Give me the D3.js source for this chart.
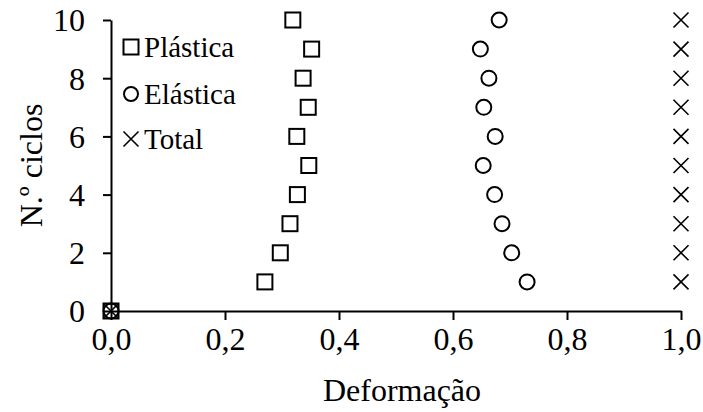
<!DOCTYPE html>
<html>
<head>
<meta charset="utf-8">
<script src="https://cdn.jsdelivr.net/npm/d3@7/dist/d3.min.js"></script>
<style>
  html, body { margin: 0; padding: 0; background: #fff; }
  svg text { font-family: "Liberation Serif", "DejaVu Serif", serif; fill: #000; }
</style>
</head>
<body>
<svg id="chart" width="703" height="412" font-family="Liberation Serif"></svg>
<script>
// Data
const ciclos   = [0, 1, 2, 3, 4, 5, 6, 7, 8, 9, 10];
const plastica = [0, 0.270, 0.297, 0.314, 0.327, 0.347, 0.326, 0.346, 0.337, 0.352, 0.319];
const elastica = [0, 0.730, 0.703, 0.686, 0.673, 0.653, 0.674, 0.654, 0.663, 0.648, 0.681];
const total    = [0, 1, 1, 1, 1, 1, 1, 1, 1, 1, 1];
const xTicks = [0, 0.2, 0.4, 0.6, 0.8, 1.0];
const yTicks = [0, 2, 4, 6, 8, 10];
const seriesNames = ["Plástica", "Elástica", "Total"];
const xTitle = "Deformação";
const yTitle = "N.º ciclos";

const svg = d3.select("#chart");
const x = d3.scaleLinear().domain([0, 1]).range([111, 681]);
const y = d3.scaleLinear().domain([0, 10]).range([311, 20]);
const fmt = v => d3.format(".1f")(v).replace(".", ",");

// Axes
const xAxis = svg.append("g").attr("transform", `translate(0,${y(0)})`)
  .call(d3.axisBottom(x).tickValues(xTicks).tickFormat(fmt).tickSize(9).tickPadding(7).tickSizeOuter(0));
const yAxis = svg.append("g").attr("transform", `translate(${x(0)},0)`)
  .call(d3.axisLeft(y).tickValues(yTicks).tickSize(8).tickPadding(18).tickSizeOuter(0));
[xAxis, yAxis].forEach(a => {
  a.attr("font-family", "Liberation Serif").attr("font-size", 32);
  a.select(".domain").attr("stroke", "#000").attr("stroke-width", 2);
  a.selectAll(".tick line").attr("stroke", "#000").attr("stroke-width", 2);
  a.selectAll(".tick text").attr("font-size", 32).attr("font-family", "Liberation Serif");
});
yAxis.selectAll(".tick text").attr("dy", "0.34em");

// Titles
svg.append("text").attr("x", (x(0) + x(1)) / 2 + 6).attr("y", 401)
  .attr("text-anchor", "middle").attr("font-size", 32).text(xTitle);
svg.append("text").attr("transform", `translate(42,${(y(0) + y(10)) / 2}) rotate(-90)`)
  .attr("text-anchor", "middle").attr("font-size", 32).text(yTitle);

// Marker drawers
function square(g, cx, cy, s) {
  g.append("rect").attr("x", cx - s / 2).attr("y", cy - s / 2).attr("width", s).attr("height", s)
    .attr("fill", "none").attr("stroke", "#000").attr("stroke-width", 2);
}
function circle(g, cx, cy, r) {
  g.append("circle").attr("cx", cx).attr("cy", cy).attr("r", r)
    .attr("fill", "none").attr("stroke", "#000").attr("stroke-width", 2);
}
function cross(g, cx, cy, h) {
  g.append("path").attr("d", `M${cx - h},${cy - h}L${cx + h},${cy + h}M${cx - h},${cy + h}L${cx + h},${cy - h}`)
    .attr("fill", "none").attr("stroke", "#000").attr("stroke-width", 1.6);
}

const marks = svg.append("g");
ciclos.forEach((c, i) => {
  square(marks, x(plastica[i]), y(c), 15);
  circle(marks, x(elastica[i]), y(c), 7.5);
  cross(marks, x(total[i]), y(c), 7.5);
});

// Legend
const leg = svg.append("g");
const legY = [47, 94, 139];
const drawers = [
  (g, cx, cy) => square(g, cx, cy, 15),
  (g, cx, cy) => circle(g, cx, cy, 7),
  (g, cx, cy) => cross(g, cx, cy, 7.5)
];
seriesNames.forEach((n, i) => {
  drawers[i](leg, 131, legY[i]);
  leg.append("text").attr("x", 144).attr("y", legY[i]).attr("dy", "0.34em")
    .attr("font-size", 29).text(n);
});
</script>
</body>
</html>
